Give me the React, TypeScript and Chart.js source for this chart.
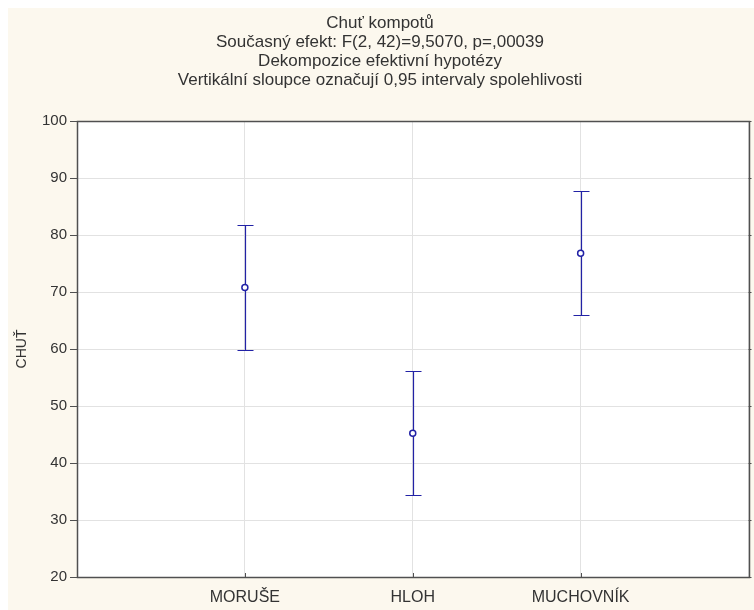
import React, { useEffect, useRef } from "react";
import { Chart, registerables } from "chart.js";

Chart.register(...registerables);

const titleLines = [
  "Chuť kompotů",
  "Současný efekt: F(2, 42)=9,5070, p=,00039",
  "Dekompozice efektivní hypotézy",
  "Vertikální sloupce označují 0,95 intervaly spolehlivosti",
];
const categories = ["MORUŠE", "HLOH", "MUCHOVNÍK"];
const means = [70.8, 45.2, 76.8];
const lower = [59.9, 34.4, 66.0];
const upper = [81.7, 56.1, 87.7];
const yAxisTitle = "CHUŤ";
const yMin = 20;
const yMax = 100;
const yStep = 10;

const CREAM = "#fcf8ee";
const NAVY = "#2222a6";
const AXIS = "#505050";
const FONT = "'Liberation Sans', Arial, sans-serif";

export default function App() {
  const ref = useRef<HTMLCanvasElement | null>(null);

  useEffect(() => {
    const canvas = ref.current;
    if (!canvas) return;

    const body = document.body;
    const prevMargin = body.style.margin;
    body.style.margin = "8px 0 0 8px";

    const bgPlugin = {
      id: "bgPlugin",
      beforeDraw(chart: any) {
        const { ctx, chartArea: a } = chart;
        ctx.save();
        ctx.fillStyle = CREAM;
        ctx.fillRect(0, 0, chart.width, chart.height);
        ctx.fillStyle = "#ffffff";
        ctx.fillRect(a.left, a.top, a.right - a.left, a.bottom - a.top);
        ctx.restore();
      },
      afterDraw(chart: any) {
        const { ctx, chartArea: a } = chart;
        const xs = chart.scales.x;
        const ys = chart.scales.y;
        ctx.save();
        ctx.strokeStyle = AXIS;
        ctx.lineWidth = 1.5;
        ctx.strokeRect(Math.round(a.left) + 0.5, Math.round(a.top) + 0.5, Math.round(a.right - a.left), Math.round(a.bottom - a.top));
        ctx.lineWidth = 1;
        ctx.beginPath();
        categories.forEach((_, i) => {
          const x = Math.round(xs.getPixelForValue(i + 1)) + 0.5;
          ctx.moveTo(x, a.bottom);
          ctx.lineTo(x, a.bottom - 4);
        });
        ys.ticks.forEach((t: any) => {
          const y = Math.round(ys.getPixelForValue(t.value)) + 0.5;
          ctx.moveTo(a.right, y);
          ctx.lineTo(a.right + 3, y);
        });
        ctx.stroke();
        ctx.restore();
      },
    };

    const errPlugin = {
      id: "errPlugin",
      beforeDatasetsDraw(chart: any) {
        const { ctx } = chart;
        const xs = chart.scales.x;
        const ys = chart.scales.y;
        ctx.save();
        ctx.strokeStyle = NAVY;
        ctx.lineWidth = 1.2;
        categories.forEach((_, i) => {
          const x = Math.round(xs.getPixelForValue(i + 1)) + 0.5;
          const yl = Math.round(ys.getPixelForValue(lower[i])) + 0.5;
          const yu = Math.round(ys.getPixelForValue(upper[i])) + 0.5;
          ctx.beginPath();
          ctx.moveTo(x, yu);
          ctx.lineTo(x, yl);
          ctx.moveTo(x - 8, yu);
          ctx.lineTo(x + 8, yu);
          ctx.moveTo(x - 8, yl);
          ctx.lineTo(x + 8, yl);
          ctx.stroke();
        });
        ctx.restore();
      },
    };

    const chart = new Chart(canvas, {
      type: "scatter",
      data: {
        datasets: [
          {
            data: means.map((m, i) => ({ x: i + 1, y: m })),
            pointStyle: "circle",
            pointRadius: 3,
            pointBorderWidth: 1.5,
            pointBorderColor: NAVY,
            pointBackgroundColor: "#ffffff",
            showLine: false,
          },
        ],
      },
      options: {
        responsive: false,
        animation: false,
        events: [],
        layout: { padding: { left: 0, right: 2, top: 0, bottom: 0 } },
        plugins: {
          legend: { display: false },
          tooltip: { enabled: false },
          title: {
            display: true,
            text: titleLines,
            color: "#333333",
            font: { family: FONT, size: 17, weight: "normal", lineHeight: 19.2 / 17 },
            padding: { top: 5.4, bottom: 30.8 },
          },
        },
        scales: {
          x: {
            type: "linear",
            min: 0,
            max: 4,
            afterFit(scale: any) {
              scale.height = 33;
            },
            afterBuildTicks(scale: any) {
              scale.ticks = [0, 1, 2, 3, 4].map((v) => ({ value: v }));
            },
            grid: { color: "#e2e2e2", drawTicks: true, tickLength: 9, tickColor: "rgba(0,0,0,0)" },
            border: { display: false },
            ticks: {
              padding: 2,
              color: "#333333",
              font: { family: FONT, size: 16 },
              autoSkip: false,
              maxRotation: 0,
              callback: (v: any) => {
                const i = Number(v) - 1;
                return i >= 0 && i < categories.length ? categories[i] : "";
              },
            },
          },
          y: {
            min: yMin,
            max: yMax,
            afterFit(scale: any) {
              scale.width = 69;
            },
            grid: { color: "#e2e2e2", tickLength: 7, tickColor: AXIS },
            border: { display: false },
            ticks: {
              stepSize: yStep,
              padding: 3,
              color: "#333333",
              font: { family: FONT, size: 15 },
            },
            title: {
              display: true,
              text: yAxisTitle,
              color: "#333333",
              font: { family: FONT, size: 14 },
              padding: { top: 6, bottom: 0 },
            },
          },
        },
      },
      plugins: [bgPlugin, errPlugin],
    });

    return () => {
      chart.destroy();
      body.style.margin = prevMargin;
    };
  }, []);

  return (
    <div style={{ width: 746, height: 602 }}>
      <canvas ref={ref} width={746} height={602} style={{ display: "block" }} />
    </div>
  );
}
